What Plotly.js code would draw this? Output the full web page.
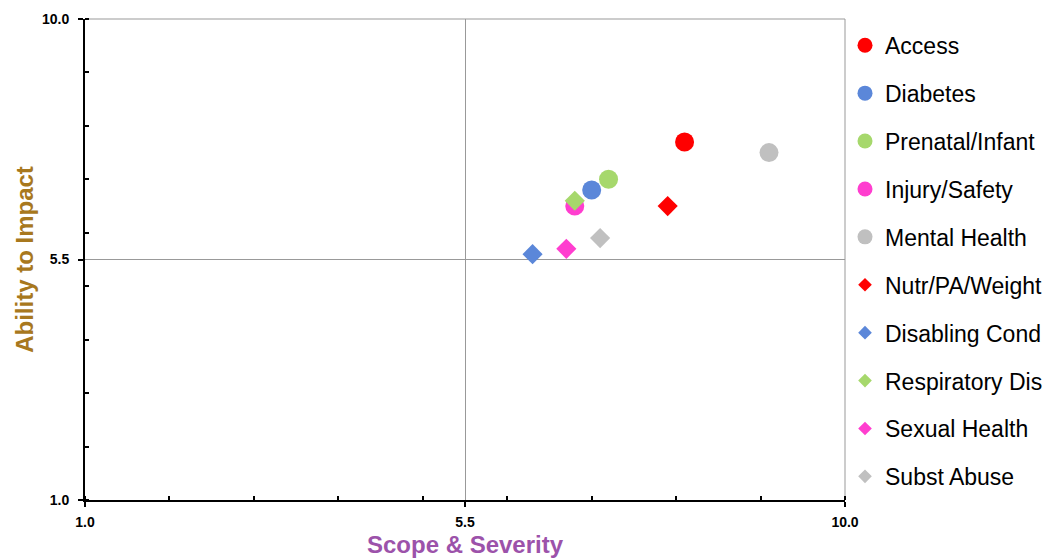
<!DOCTYPE html>
<html>
<head>
<meta charset="utf-8">
<script src="https://cdn.plot.ly/plotly-3.0.1.min.js"></script>
<style>html,body{margin:0;padding:0;background:#fff;}#chart{width:1054px;height:558px;}</style>
</head>
<body>
<div id="chart"></div>
<script>
const names = ["Access","Diabetes","Prenatal/Infant","Injury/Safety","Mental Health","Nutr/PA/Weight","Disabling Cond","Respiratory Dis","Sexual Health","Subst Abuse"];
const scopeSeverity = [8.1, 7.0, 7.2, 6.8, 9.1, 7.9, 6.3, 6.8, 6.7, 7.1];
const abilityToImpact = [7.7, 6.8, 7.0, 6.5, 7.5, 6.5, 5.6, 6.6, 5.7, 5.9];
const symbols = ["circle","circle","circle","circle","circle","diamond","diamond","diamond","diamond","diamond"];
const colors = ["#FF0000","#5B87D9","#A6D86C","#FF3ECF","#C0C0C0","#FF0000","#5B87D9","#A6D86C","#FF3ECF","#C0C0C0"];
const tickVals = [1, 5.5, 10];
const tickText = ["1.0", "5.5", "10.0"];

const FONT = "Liberation Sans, Arial, sans-serif";
const traces = [];
names.forEach((n, i) => {
  const isCircle = symbols[i] === "circle";
  traces.push({
    type: "scatter", mode: "markers", name: n, legendgroup: "g" + i, showlegend: false,
    x: [scopeSeverity[i]], y: [abilityToImpact[i]],
    marker: {symbol: symbols[i], color: colors[i], size: isCircle ? 19 : 15.5, line: {width: 0}},
    hoverinfo: "name+x+y"
  });
});
names.forEach((n, i) => {
  const isCircle = symbols[i] === "circle";
  traces.push({
    type: "scatter", mode: "markers", name: n, legendgroup: "g" + i, showlegend: true,
    x: [null], y: [null],
    marker: {symbol: symbols[i], color: colors[i], size: isCircle ? 15 : 10.5, line: {width: 0}},
    hoverinfo: "skip"
  });
});

const axisCommon = {
  range: [1, 10], tickmode: "array", tickvals: tickVals, ticktext: tickText,
  ticks: "outside", ticklen: 5, tickwidth: 2, tickcolor: "#000",
  showline: true, linecolor: "#000", linewidth: 2,
  showgrid: true, gridcolor: "#999", gridwidth: 1,
  zeroline: false, fixedrange: true,
  tickfont: {family: FONT, size: 14, color: "#000", weight: 700},
  minor: {tickmode: "linear", tick0: 1, dtick: 1, ticks: "inside", ticklen: 4, tickwidth: 2, tickcolor: "#000", showgrid: false}
};

const layout = {
  width: 1054, height: 558,
  margin: {l: 85, r: 209, t: 19, b: 58, autoexpand: false},
  paper_bgcolor: "#fff", plot_bgcolor: "#fff",
  font: {family: FONT},
  showlegend: true,
  xaxis: Object.assign({}, axisCommon, {
    ticklabelstandoff: 3,
    title: {text: "Scope & Severity", standoff: 8, font: {family: FONT, size: 24, color: "#9C52AA", weight: "bold"}}
  }),
  yaxis: Object.assign({}, axisCommon, {
    ticklabelstandoff: 6,
    title: {text: "Ability to Impact", standoff: 2, font: {family: FONT, size: 24, color: "#A8781E", weight: "bold"}}
  }),
  shapes: [
    {type: "line", xref: "paper", yref: "paper", x0: 0, x1: 1, y0: 1, y1: 1, line: {color: "#999", width: 1}, layer: "below"},
    {type: "line", xref: "paper", yref: "paper", x0: 1, x1: 1, y0: 0, y1: 1, line: {color: "#999", width: 1}, layer: "below"}
  ],
  legend: {
    x: 1.0, xanchor: "left", xref: "paper", y: 0.99, yanchor: "top",
    font: {family: FONT, size: 23, color: "#000"},
    traceorder: "grouped", tracegroupgap: 15, itemsizing: "trace",
    bgcolor: "rgba(0,0,0,0)", itemwidth: 30
  }
};

Plotly.newPlot("chart", traces, layout, {displayModeBar: false, staticPlot: true});
</script>
</body>
</html>
